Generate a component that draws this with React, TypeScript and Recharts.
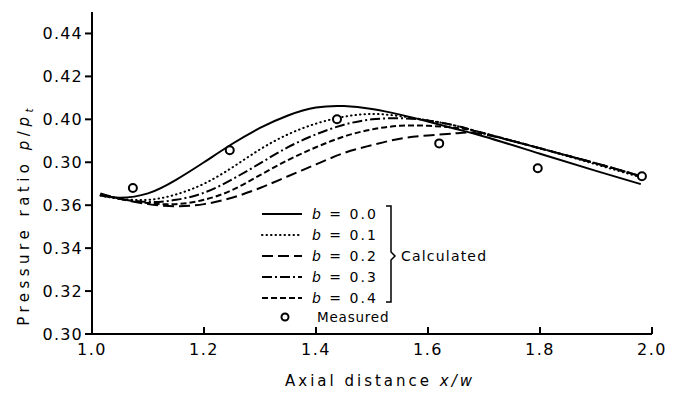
import { ComposedChart, Line, Scatter, XAxis, YAxis, Label } from 'recharts'

const xs = [1.015, 1.05, 1.1, 1.15, 1.2, 1.25, 1.3, 1.35, 1.4, 1.45, 1.5, 1.55, 1.6, 1.65, 1.7, 1.8, 1.9, 1.98]

const b00 = [0.3645, 0.3635, 0.3655, 0.3718, 0.38, 0.3885, 0.396, 0.4018, 0.4055, 0.4062, 0.4048, 0.4022, 0.399, 0.3955, 0.392, 0.384, 0.376, 0.3698]
const b01 = [0.3645, 0.363, 0.3625, 0.365, 0.37, 0.3775, 0.386, 0.393, 0.398, 0.4012, 0.4025, 0.4015, 0.3995, 0.397, 0.3935, 0.3865, 0.379, 0.373]
const b02 = [0.3655, 0.363, 0.3605, 0.3595, 0.3605, 0.3635, 0.368, 0.3735, 0.379, 0.3843, 0.388, 0.391, 0.3925, 0.3935, 0.393, 0.3865, 0.3795, 0.3735]
const b03 = [0.365, 0.363, 0.3615, 0.3625, 0.3658, 0.372, 0.3795, 0.387, 0.393, 0.3975, 0.4, 0.4005, 0.3995, 0.397, 0.3935, 0.3865, 0.3795, 0.3735]
const b04 = [0.365, 0.363, 0.361, 0.3605, 0.3625, 0.367, 0.374, 0.381, 0.387, 0.392, 0.3953, 0.397, 0.397, 0.396, 0.3935, 0.3865, 0.3795, 0.3735]

const measuredX = [1.073, 1.246, 1.4375, 1.62, 1.796, 1.982]
const measuredY = [0.368, 0.3856, 0.4, 0.3888, 0.3772, 0.3735]

const xTicks = [1.0, 1.2, 1.4, 1.6, 1.8, 2.0]
const xTickLabels = ['1.0', '1.2', '1.4', '1.6', '1.8', '2.0']
const yTicks = [0.3, 0.32, 0.34, 0.36, 0.38, 0.4, 0.42, 0.44]
// labels as printed in the figure (the 0.38 tick reads "0.30")
const yTickLabels = ['0.30', '0.32', '0.34', '0.36', '0.30', '0.40', '0.42', '0.44']

const series = [
  { key: 'b00', label: '0.0', values: b00, dash: undefined as string | undefined, cap: 'butt' },
  { key: 'b01', label: '0.1', values: b01, dash: '0.5 4', cap: 'round' },
  { key: 'b02', label: '0.2', values: b02, dash: '11 5', cap: 'butt' },
  { key: 'b03', label: '0.3', values: b03, dash: '10 3 2 3', cap: 'butt' },
  { key: 'b04', label: '0.4', values: b04, dash: '6 3', cap: 'butt' },
]

const curveData = xs.map((x, i) => {
  const row: Record<string, number> = { x }
  series.forEach(s => { row[s.key] = s.values[i] })
  return row
})
const measuredData = measuredX.map((x, i) => ({ x, y: measuredY[i] }))

const FONT = '"DejaVu Sans", sans-serif'

function LegendBox() {
  return (
    <svg width={260} height={120} style={{ overflow: 'visible', display: 'block' }}>
      {series.map((s, i) => {
        const y = 10 + i * 21
        return (
          <g key={s.key}>
            <line x1={6} x2={46} y1={y} y2={y} stroke="#000" strokeWidth={2}
              strokeDasharray={s.dash} strokeLinecap={s.cap as 'butt' | 'round'} />
            <text x={56} y={y + 5} fontFamily={FONT} fontSize={14} letterSpacing={2}>
              <tspan fontStyle="italic">b</tspan> = {s.label}
            </text>
          </g>
        )
      })}
      <path d="M 130 2 L 135 2 L 135 48 L 139 52 L 135 56 L 135 98 L 130 98" fill="none" stroke="#000" strokeWidth={1.5} />
      <text x={145} y={57} fontFamily={FONT} fontSize={14} letterSpacing={1.2}>Calculated</text>
      <circle cx={29} cy={113} r={3.5} fill="none" stroke="#000" strokeWidth={2} />
      <text x={61} y={118} fontFamily={FONT} fontSize={13.5} letterSpacing={0.8}>Measured</text>
    </svg>
  )
}

export default function App() {
  return (
    <div style={{ position: 'absolute', left: 0, top: 0, width: 677, height: 394, background: '#fff' }}>
      <ComposedChart width={677} height={394} data={curveData} margin={{ top: 12, right: 25, bottom: 0, left: 0 }}>
        <XAxis dataKey="x" type="number" domain={[1, 2]} ticks={xTicks} allowDataOverflow
          tickFormatter={(v: number) => xTickLabels[xTicks.indexOf(v)] ?? String(v)}
          height={60} axisLine={{ stroke: '#000', strokeWidth: 2 }}
          tickLine={{ stroke: '#000', strokeWidth: 2 }} tickSize={-7} tickMargin={17}
          tick={{ fill: '#000', fontSize: 16, fontFamily: FONT, letterSpacing: 1.5 }}>
          <Label content={({ viewBox }: any) => (
            <text x={viewBox.x + viewBox.width / 2 + 8} y={viewBox.y + 52} textAnchor="middle"
              fontFamily={FONT} fontSize={15} letterSpacing={3} fill="#000">
              Axial distance <tspan fontStyle="italic">x/w</tspan>
            </text>
          )} />
        </XAxis>
        <YAxis type="number" domain={[0.3, 0.45]} ticks={yTicks} allowDataOverflow width={92}
          tickFormatter={(v: number, i: number) => yTickLabels[i]}
          axisLine={{ stroke: '#000', strokeWidth: 2 }} tickLine={{ stroke: '#000', strokeWidth: 2 }}
          tickSize={7} tickMargin={2}
          tick={{ fill: '#000', fontSize: 16, fontFamily: FONT, letterSpacing: 1.2 }}>
          <Label content={() => (
            <text transform="translate(29 215) rotate(-90)" textAnchor="middle"
              fontFamily={FONT} fontSize={15} letterSpacing={4.5} fill="#000">
              Pressure ratio <tspan fontStyle="italic">p</tspan>/<tspan fontStyle="italic">p</tspan><tspan fontStyle="italic" fontSize={10} dy={4}>t</tspan>
            </text>
          )} />
        </YAxis>
        {series.map(s => (
          <Line key={s.key} dataKey={s.key} type="natural" stroke="#000" strokeWidth={2}
            strokeDasharray={s.dash} strokeLinecap={s.cap as 'butt' | 'round'}
            dot={false} activeDot={false} isAnimationActive={false} />
        ))}
        <Scatter data={measuredData} dataKey="y" isAnimationActive={false}
          shape={(p: any) => <circle cx={p.cx} cy={p.cy} r={4} fill="#fff" stroke="#000" strokeWidth={2} />} />
      </ComposedChart>
      <div style={{ position: 'absolute', left: 256, top: 204 }}>
        <LegendBox />
      </div>
    </div>
  )
}
